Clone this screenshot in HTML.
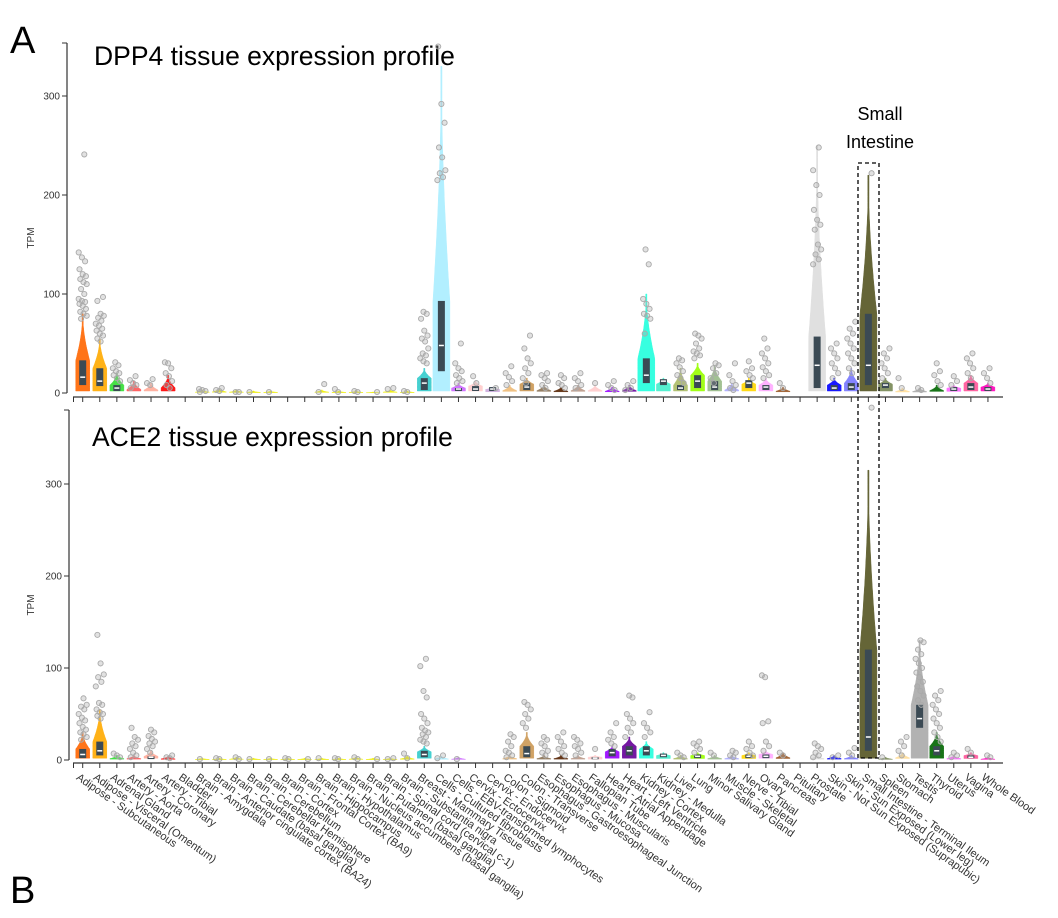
<!DOCTYPE html>
<html><head><meta charset="utf-8"><style>
body{margin:0;background:#fff}
svg{display:block;font-family:"Liberation Sans",sans-serif}
</style></head><body>
<svg id="chart" width="1058" height="918" viewBox="0 0 1058 918" xmlns="http://www.w3.org/2000/svg">
<rect width="1058" height="918" fill="#fff"/>
<text x="10" y="53" font-size="38" fill="#000">A</text>
<text x="10" y="903" font-size="38" fill="#000">B</text>
<text x="94" y="65" font-size="26.5" fill="#000">DPP4 tissue expression profile</text>
<text x="92" y="446" font-size="26.5" fill="#000">ACE2 tissue expression profile</text>
<text x="880" y="120" font-size="18" text-anchor="middle" fill="#000">Small</text>
<text x="880" y="148" font-size="18" text-anchor="middle" fill="#000">Intestine</text>
<g id="plots"></g>
</svg>
<script>
const tissues=["Adipose - Subcutaneous","Adipose - Visceral (Omentum)","Adrenal Gland","Artery - Aorta","Artery - Coronary","Artery - Tibial","Bladder","Brain - Amygdala","Brain - Anterior cingulate cortex (BA24)","Brain - Caudate (basal ganglia)","Brain - Cerebellar Hemisphere","Brain - Cerebellum","Brain - Cortex","Brain - Frontal Cortex (BA9)","Brain - Hippocampus","Brain - Hypothalamus","Brain - Nucleus accumbens (basal ganglia)","Brain - Putamen (basal ganglia)","Brain - Spinal cord (cervical c-1)","Brain - Substantia nigra","Breast - Mammary Tissue","Cells - Cultured fibroblasts","Cells - EBV-transformed lymphocytes","Cervix - Ectocervix","Cervix - Endocervix","Colon - Sigmoid","Colon - Transverse","Esophagus - Gastroesophageal Junction","Esophagus - Mucosa","Esophagus - Muscularis","Fallopian Tube","Heart - Atrial Appendage","Heart - Left Ventricle","Kidney - Cortex","Kidney - Medulla","Liver","Lung","Minor Salivary Gland","Muscle - Skeletal","Nerve - Tibial","Ovary","Pancreas","Pituitary","Prostate","Skin - Not Sun Exposed (Suprapubic)","Skin - Sun Exposed (Lower leg)","Small Intestine - Terminal Ileum","Spleen","Stomach","Testis","Thyroid","Uterus","Vagina","Whole Blood"];
const colors=["#FF6600","#FFAA00","#33DD33","#FF5555","#FFAA99","#FF0000","#AA0000","#EEEE00","#EEEE00","#EEEE00","#EEEE00","#EEEE00","#EEEE00","#EEEE00","#EEEE00","#EEEE00","#EEEE00","#EEEE00","#EEEE00","#EEEE00","#33CCCC","#AAEEFF","#CC66FF","#FFCCCC","#CCAADD","#EEBB77","#CC9955","#8B7355","#552200","#BB9988","#FFCCCC","#9900FF","#660099","#22FFDD","#44EECC","#AABB66","#99FF00","#99BB88","#AAAAFF","#FFD700","#FFAAFF","#995522","#AAFF99","#DDDDDD","#0000FF","#7777FF","#555522","#778855","#FFDD99","#AAAAAA","#006600","#FF66FF","#FF5599","#FF00BB"];
const dppTop=[80,55,20,12,10,18,0,3,4,3,2,2,0,0,3,2,2,1,3,2,25,330,10,12,6,8,15,8,6,8,8,6,8,100,15,25,30,28,10,15,15,6,0,250,15,25,220,15,5,5,8,8,18,10];
const dppQ1=[8,7,2,0,0,0,0,0,0,0,0,0,0,0,0,0,0,0,0,0,3,22,2,2,2,0,3,0,0,0,0,0,0,10,8,3,5,3,0,5,3,0,0,5,3,3,8,5,0,0,0,2,3,2];
const dppMed=[16,12,5,0,0,0,0,0,0,0,0,0,0,0,0,0,0,0,0,0,10,48,4,4,4,0,6,0,0,0,0,0,0,18,12,5,12,6,0,10,6,0,0,28,5,6,28,8,0,0,0,4,6,4];
const dppQ3=[33,25,8,0,0,0,0,0,0,0,0,0,0,0,0,0,0,0,0,0,15,93,5,7,6,0,10,0,0,0,0,0,0,35,14,8,18,12,0,13,8,0,0,57,8,10,80,10,0,0,0,6,10,6];
const dppOut=[[75,78,80,82,85,88,90,92,93,95,100,105,110,112,115,118,120,125,133,137,142,241],[52,55,58,60,63,65,68,70,73,76,78,80,93,97],[12,15,18,20,22,25,28,31],[5,8,10,13,17],[8,10,14],[5,8,12,17,20,25,30,31],[],[1,2,3,4],[2,3,5],[1,1],[1],[1],[],[],[1,9],[1,4],[1,2],[1],[4,5],[1,2],[30,32,35,38,40,45,52,55,58,63,75,80,82],[215,218,222,225,238,248,273,292,350],[10,12,15,18,22,25,30,50],[10,17],[5],[8,12,16,20,27],[10,15,20,25,30,35,45,58],[5,8,12,15,18,20],[5,8,10,15,18],[5,8,12,15,20],[10],[3,5,8,12],[3,5,8,12],[60,75,78,80,85,90,95,130,145],[],[10,15,18,22,26,30,33,35],[35,38,40,42,45,50,55,58,60],[10,15,20,25,28,30],[3,5,8,12,18,30],[15,18,22,25,32],[15,18,22,26,30,35,40,45,55],[5,10],[],[130,135,140,145,150,165,170,175,185,200,210,225,248],[15,20,25,30,35,40,45,50],[20,25,30,35,40,45,50,55,60,65,72],[222],[15,20,25,30,35,40,45],[5,15],[3,5],[8,12,18,22,30],[8,12,17],[15,20,25,30,35,40],[10,15,20,25]];
const aceTop=[30,55,5,5,10,4,0,2,2,3,2,2,2,2,2,2,3,2,2,4,15,4,3,0,0,5,30,5,5,5,5,15,25,20,8,5,8,5,5,8,10,8,0,5,5,5,315,3,8,130,30,5,8,3];
const aceQ1=[2,5,0,0,1,0,0,0,0,0,0,0,0,0,0,0,0,0,0,0,3,0,0,0,0,0,3,0,0,0,1,4,5,5,3,0,2,0,0,2,2,0,0,0,0,0,10,0,0,35,5,0,2,0];
const aceMed=[6,10,0,0,3,0,0,0,0,0,0,0,0,0,0,0,0,0,0,0,6,0,0,0,0,0,7,0,0,0,2,8,10,10,5,0,4,0,0,4,4,0,0,0,0,0,25,0,0,45,10,0,3,0];
const aceQ3=[12,20,0,0,4,0,0,0,0,0,0,0,0,0,0,0,0,0,0,0,10,0,0,0,0,0,15,0,0,0,3,12,15,15,7,0,6,0,0,6,6,0,0,0,0,0,120,0,0,60,15,0,5,0];
const aceOut=[[22,25,28,30,33,36,40,43,46,50,55,58,60,67],[45,48,50,52,55,60,62,80,85,90,93,105,136],[3,5,7],[3,5,8,12,15,18,22,25,35],[8,12,15,18,20,23,26,30,33],[2,3,5],[],[1],[1,2],[1,3],[1],[1],[1,2],[1],[2],[1,2],[1,3],[1],[1,2],[2,7],[18,20,22,25,28,30,32,35,40,45,50,68,75,102,110],[2,5],[1],[],[],[3,5,8,10,15,20,25,28],[35,40,45,50,55,60,63],[5,8,10,15,18,22,25],[5,8,12,15,20,25,30],[5,8,12,15,18,22,25],[12],[15,18,22,25,30,40],[25,30,35,40,45,50,68,70],[25,30,35,40,52],[],[3,5,8],[8,12,15,18,20],[5,8],[3,5,8,10],[5,8,12,15,20],[10,15,20,40,42,90,92],[5,8],[],[3,5,8,12,15,18],[3,5],[5,8,13],[383],[3],[5,10,15,20,25],[60,65,70,75,80,85,90,95,100,105,110,115,120,128,130],[20,25,30,35,40,45,50,55,60,65,70,75],[3,5,8],[8,12],[3,5]];
const yTicks=[0,100,200,300];

const NS="http://www.w3.org/2000/svg";
const root=document.getElementById('plots');
function mk(tag,attrs,parent){const e=document.createElementNS(NS,tag);for(const k in attrs)e.setAttribute(k,attrs[k]);(parent||root).appendChild(e);return e;}
const xScale=i=>82.7+i*17.08;

function panel(p){
  const g=mk('g',{});
  
  
  const y=v=>p.y0-v*p.k;
  const ya=mk('line',{x1:p.ax,x2:p.ax,y1:p.top,y2:y(0),stroke:'#333','stroke-width':1.2},g);
  
  
  yTicks.forEach(t=>{
    mk('line',{x1:p.ax-5,x2:p.ax,y1:y(t),y2:y(t),stroke:'#333'},g);
    const tl=mk('text',{x:p.ax-7,y:y(t)+3.5,'font-size':10,'text-anchor':'end',fill:'#333'},g);
    tl.textContent=t;
    
    
  });
  mk('line',{x1:p.ax,x2:p.ax-5,y1:p.top,y2:p.top,stroke:'#333'},g);
  const yt=mk('text',{x:0,y:0,'font-size':10,'text-anchor':'middle',fill:'#333',transform:`translate(34,${(p.top+y(0))/2+20}) rotate(-90)`},g);
  yt.textContent='TPM';
  
  
  const xa=mk('line',{x1:73,x2:1003,y1:p.xy,y2:p.xy,stroke:'#333','stroke-width':1.2},g);
  
  
  mk('line',{x1:73.5,x2:73.5,y1:p.xy,y2:p.xy+5,stroke:'#333'},g);
  tissues.forEach((t,i)=>{
    const cx=xScale(i);
    mk('line',{x1:cx,x2:cx,y1:p.xy,y2:p.xy+5,stroke:'#333'},g);
    const vg=mk('g',{},g);
    
    
    const top=p.tops[i];
    if(top>0){
      const w=top>90?8.5:7;
      const mode=p.q3[i]>0?Math.min(p.q3[i],top*0.6):top*0.3;
      const base=Math.min(2,top*0.2);
      const pts=[];const left=[];
      const n=40;
      for(let s=0;s<=n;s++){
        const v=base+(top-base)*s/n;
        let hw=v<=mode?w:w*Math.pow(1-(v-mode)/(top-mode),1.8);
        hw=Math.max(hw,0.6);
        pts.push([cx+hw,y(v)]);left.push([cx-hw,y(v)]);
      }
      const poly=pts.concat(left.reverse()).map(q=>q[0].toFixed(1)+','+q[1].toFixed(1)).join(' ');
      mk('polygon',{points:poly,fill:colors[i],stroke:colors[i],'stroke-width':0.5,opacity:0.9},vg);
    }
    if(p.q3[i]>0){
      mk('rect',{x:cx-3.5,y:y(p.q3[i]),width:7,height:Math.max(y(p.q1[i])-y(p.q3[i]),2),fill:'#3b4a54'},vg);
      mk('line',{x1:cx-2.5,x2:cx+2.5,y1:y(p.med[i]),y2:y(p.med[i]),stroke:'#fff','stroke-width':1.5},vg);
    }
    p.out[i].forEach((v,j)=>{
      const dx=(((j*7+i*3+3)%11)-5)*0.8;
      mk('circle',{cx:cx+dx,cy:y(v),r:2.6,fill:'rgba(170,170,170,0.35)',stroke:'#aaa','stroke-width':0.9},vg);
    });
  });
  return g;
}
panel({name:'dpp4-panel',y0:393,k:0.99,top:43,ax:67,xy:397,tops:dppTop,q1:dppQ1,med:dppMed,q3:dppQ3,out:dppOut});
panel({name:'ace2-panel',y0:760,k:0.92,top:410,ax:69,xy:763,tops:aceTop,q1:aceQ1,med:aceMed,q3:aceQ3,out:aceOut});
tissues.forEach((t,i)=>{
  const cx=xScale(i)-3;
  const tx=mk('text',{x:0,y:0,'font-size':11,fill:'#333','dominant-baseline':'hanging',transform:`translate(${cx},773) rotate(35)`});
  tx.textContent=t;
  
  
});
const box=mk('rect',{x:858,y:163,width:21,height:595,fill:'none',stroke:'#000','stroke-width':1.3,'stroke-dasharray':'4,3'});


</script>
</body></html>
